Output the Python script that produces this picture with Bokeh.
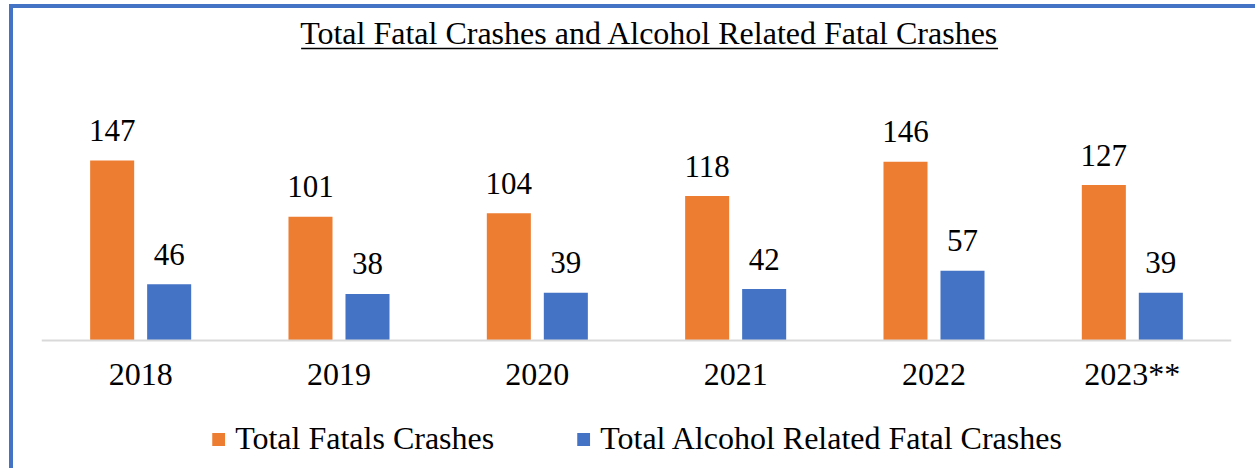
from bokeh.plotting import figure
from bokeh.models import ColumnDataSource, FactorRange, Range1d, Legend, LegendItem
from bokeh.transform import dodge
from bokeh.core.properties import value
from bokeh.embed import file_html
from bokeh.resources import INLINE

# ---- data ----
years = ["2018", "2019", "2020", "2021", "2022", "2023**"]
total_fatal = [147, 101, 104, 118, 146, 127]
alcohol_fatal = [46, 38, 39, 42, 57, 39]
series_names = ["Total Fatals Crashes", "Total Alcohol Related Fatal Crashes"]
title_text = "Total Fatal Crashes and Alcohol Related Fatal Crashes"

# ---- style ----
FONT = "Liberation Serif"
ORANGE = "#ED7D31"
BLUE = "#4472C4"
BAR_W = 0.222
OFF = 0.1437

src = ColumnDataSource(dict(
    year=years,
    total=total_fatal,
    alc=alcohol_fatal,
    total_lbl=[str(v) for v in total_fatal],
    alc_lbl=[str(v) for v in alcohol_fatal],
))

p = figure(
    x_range=FactorRange(*years),
    y_range=Range1d(-104.6, 271.2),
    frame_width=1190, frame_height=460,
    output_backend="svg", toolbar_location=None,
    y_axis_location=None,
    min_border_left=28, min_border_right=24,
    min_border_top=0, min_border_bottom=0,
)
p.styles = {"border-left": "4px solid #4472C4", "border-top": "4px solid #4472C4",
            "margin-left": "9px", "margin-top": "4px"}
p.outline_line_color = None
p.xgrid.grid_line_color = None
p.ygrid.grid_line_color = None
p.background_fill_color = "white"
p.border_fill_color = "white"

r1 = p.vbar(x=dodge("year", -OFF, range=p.x_range), top="total", width=BAR_W,
            source=src, fill_color=ORANGE, line_color=None)
r2 = p.vbar(x=dodge("year", OFF, range=p.x_range), top="alc", width=BAR_W,
            source=src, fill_color=BLUE, line_color=None)

for col, lbl, off in (("total", "total_lbl", -OFF), ("alc", "alc_lbl", OFF)):
    p.text(x=dodge("year", off, range=p.x_range), y=col, text=lbl, source=src,
           text_align="center", text_baseline="middle", y_offset=-30,
           text_font=value(FONT), text_font_size="31px", text_color="black")

# title (underlined)
tx, ty, tw, uy = 3.066, 250.8, 3.514, 238.6
p.text(x=[tx], y=[ty], text=[title_text], text_align="center", text_baseline="middle",
       text_font=value(FONT), text_font_size="32px", text_color="black")
p.segment(x0=[tx - tw / 2], x1=[tx + tw / 2], y0=[uy], y1=[uy],
          line_color="black", line_width=1.5)

ax = p.xaxis[0]
ax.fixed_location = 0
ax.axis_line_color = "#D9D9D9"
ax.axis_line_width = 2
ax.major_tick_line_color = None
ax.minor_tick_line_color = None
ax.major_tick_out = 0
ax.major_tick_in = 0
ax.major_label_text_font = FONT
ax.major_label_text_font_size = "32px"
ax.major_label_text_color = "black"
ax.major_label_standoff = 16

legend = Legend(items=[LegendItem(label=series_names[0], renderers=[r1]),
                       LegendItem(label=series_names[1], renderers=[r2])],
                orientation="horizontal", location="bottom_center")
legend.label_text_font = FONT
legend.label_text_font_size = "32px"
legend.label_text_color = "black"
legend.glyph_width = 16
legend.glyph_height = 16
legend.label_standoff = 9
legend.spacing = 81
legend.border_line_color = None
legend.background_fill_alpha = 0
legend.padding = 0
legend.margin = 11
p.add_layout(legend)

open("out.html", "w").write(file_html(p, INLINE))
